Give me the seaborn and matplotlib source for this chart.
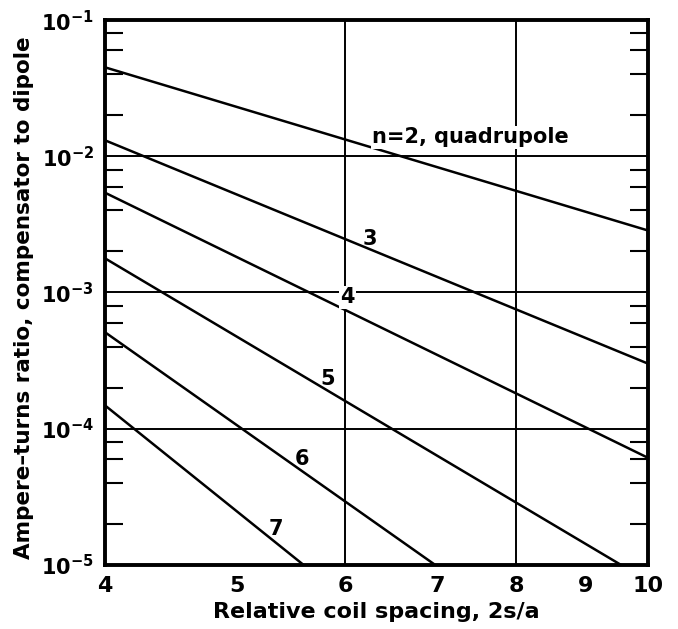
import numpy as np
import pandas as pd
import matplotlib
matplotlib.use("Agg")
import matplotlib.pyplot as plt
import matplotlib.ticker as mticker
import seaborn as sns

# Nilai: ujung tiap garis (log-log, garis lurus)
spasi_n2 = [4.0, 10.0]
rasio_n2 = [4.5e-2, 2.85e-3]
spasi_n3 = [4.0, 10.0]
rasio_n3 = [1.31e-2, 3.0e-4]
spasi_n4 = [4.0, 10.0]
rasio_n4 = [5.4e-3, 6.1e-5]
spasi_n5 = [4.0, 9.55]
rasio_n5 = [1.78e-3, 1.0e-5]
spasi_n6 = [4.0, 6.98]
rasio_n6 = [5.1e-4, 1.0e-5]
spasi_n7 = [4.0, 5.59]
rasio_n7 = [1.48e-4, 1.0e-5]

label_kurva = ["n=2, quadrupole", "3", "4", "5", "6", "7"]
x_ticks = [4, 5, 6, 7, 8, 9, 10]

sns.set_style("ticks")
plt.rcParams["font.family"] = ["DejaVu Sans"]
plt.rcParams["font.weight"] = "bold"
plt.rcParams["mathtext.default"] = "bf"
plt.rcParams["text.color"] = "black"
plt.rcParams["axes.labelcolor"] = "black"
plt.rcParams["xtick.color"] = "black"
plt.rcParams["ytick.color"] = "black"
plt.rcParams["axes.edgecolor"] = "black"

df = pd.concat([
    pd.DataFrame({"spasi": spasi_n2, "rasio": rasio_n2, "n": 2}),
    pd.DataFrame({"spasi": spasi_n3, "rasio": rasio_n3, "n": 3}),
    pd.DataFrame({"spasi": spasi_n4, "rasio": rasio_n4, "n": 4}),
    pd.DataFrame({"spasi": spasi_n5, "rasio": rasio_n5, "n": 5}),
    pd.DataFrame({"spasi": spasi_n6, "rasio": rasio_n6, "n": 6}),
    pd.DataFrame({"spasi": spasi_n7, "rasio": rasio_n7, "n": 7}),
])

fig = plt.figure(figsize=(6.78, 6.29), dpi=100)
ax = fig.add_axes([0.155, 0.102, 0.801, 0.866])

sns.lineplot(data=df, x="spasi", y="rasio", units="n", estimator=None,
             color="black", linewidth=1.8, ax=ax, legend=False)

ax.set_xscale("log")
ax.set_yscale("log")
ax.set_xlim(4, 10)
ax.set_ylim(1e-5, 1e-1)

# grid hanya di 6, 8 dan dekade tengah
for xv in [6, 8]:
    ax.axvline(xv, color="black", linewidth=1.4, zorder=1)
for yv in [1e-2, 1e-3, 1e-4]:
    ax.axhline(yv, color="black", linewidth=1.4, zorder=1)

ax.xaxis.set_major_locator(mticker.FixedLocator(x_ticks))
ax.xaxis.set_major_formatter(mticker.FixedFormatter([str(t) for t in x_ticks]))
ax.xaxis.set_minor_locator(mticker.NullLocator())
ax.yaxis.set_major_locator(mticker.LogLocator(base=10))
ax.yaxis.set_minor_locator(mticker.LogLocator(base=10, subs=[2, 4, 6, 8]))
ax.yaxis.set_minor_formatter(mticker.NullFormatter())

ax.tick_params(axis="both", which="both", direction="in", top=True, right=True,
               width=1.5)
ax.tick_params(axis="y", which="major", length=0, pad=8, labelsize=15)
ax.tick_params(axis="y", which="minor", length=13)
ax.tick_params(axis="x", which="major", length=8, pad=8, labelsize=16)
ax.set_xticks([5, 7, 9], minor=True)
ax.tick_params(axis="x", which="minor", length=8, width=1.5)
for t in ax.xaxis.get_major_ticks():
    t.tick1line.set_visible(False)
    t.tick2line.set_visible(False)

for s in ax.spines.values():
    s.set_linewidth(2.8)

# label kurva (latar putih hanya yang memotong garis grid)
posisi = [(6.28, 1.38e-2), (6.25, 2.49e-3), (6.02, 9.2e-4), (5.82, 2.33e-4),
          (5.58, 6.0e-5), (5.34, 1.84e-5)]
for i, (teks, (xt, yt)) in enumerate(zip(label_kurva, posisi)):
    kotak = dict(facecolor="white", edgecolor="none", pad=1.0) if i in (0, 2) else None
    ax.text(xt, yt, teks, fontsize=15, fontweight="bold",
            ha="left" if i == 0 else "center", va="center", zorder=3, bbox=kotak)

ax.set_xlabel("Relative coil spacing, 2s/a", fontsize=16, fontweight="bold", labelpad=4)
ax.set_ylabel("Ampere\u2013turns ratio, compensator to dipole", fontsize=15.5,
              fontweight="bold", labelpad=2)
ax.yaxis.set_label_coords(-0.13, 0.49)

fig.savefig("out.png", dpi=100)
